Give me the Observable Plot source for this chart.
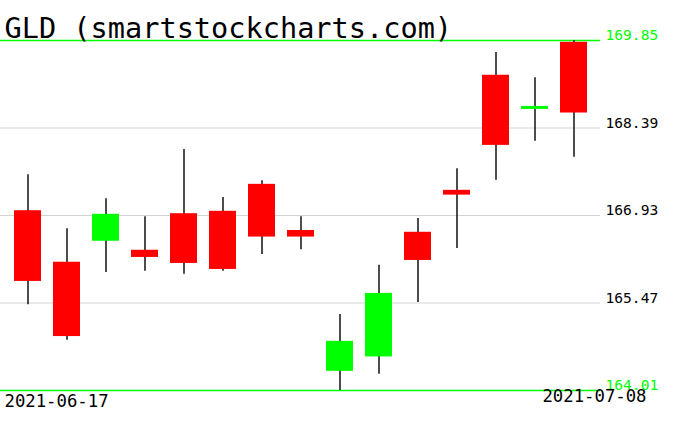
<!DOCTYPE html>
<html>
<head>
<meta charset="utf-8">
<script src="https://cdn.jsdelivr.net/npm/d3@7"></script>
<script src="https://cdn.jsdelivr.net/npm/@observablehq/plot@0.6"></script>
<style>
  html, body { margin: 0; padding: 0; background: #ffffff; }
  #chart svg { display: block; }
</style>
</head>
<body>
<div id="chart"></div>
<script>
const title = "GLD (smartstockcharts.com)";
const dates = ["2021-06-17","2021-06-18","2021-06-21","2021-06-22","2021-06-23","2021-06-24","2021-06-25","2021-06-28","2021-06-29","2021-06-30","2021-07-01","2021-07-02","2021-07-06","2021-07-07","2021-07-08"];
const open  = [167.01,166.15,166.50,166.35,166.96,167.00,167.45,166.68,164.33,164.57,166.65,167.35,169.27,168.70,169.82];
const close = [165.83,164.91,166.95,166.23,166.13,166.03,166.57,166.57,164.83,165.63,166.18,167.27,168.10,168.75,168.64];
const high  = [167.61,166.71,167.21,166.91,168.03,167.23,167.51,166.91,165.28,166.10,166.88,167.71,169.65,169.23,169.85];
const low   = [165.44,164.85,165.98,166.00,165.95,166.00,166.28,166.36,164.01,164.28,165.48,166.38,167.52,168.17,167.90];
const yTicks = [164.01, 165.47, 166.93, 168.39, 169.85];

const data = dates.map((d, i) => ({date: d, open: open[i], close: close[i], high: high[i], low: low[i]}));
const edgeTicks = [yTicks[0], yTicks[yTicks.length - 1]];
const innerTicks = yTicks.slice(1, -1);

const GREEN = "#00ff00", RED = "#ff0000";
const mono = "'DejaVu Sans Mono', 'Liberation Mono', monospace";

const chart = Plot.plot({
  width: 676,
  height: 431,
  marginLeft: 0,
  marginRight: 76,
  marginTop: 40,
  marginBottom: 41,
  style: {background: "#ffffff", overflow: "visible", fontFamily: mono},
  x: {type: "band", domain: dates, range: [6.5, 593.5], padding: 0, axis: null},
  y: {domain: [yTicks[0], yTicks[yTicks.length - 1]], axis: null},
  marks: [
    Plot.ruleY(innerTicks, {stroke: "#d3d3d3", strokeWidth: 1}),
    Plot.ruleY(edgeTicks, {stroke: GREEN, strokeWidth: 1.4}),
    Plot.ruleX(data, {x: "date", y1: "low", y2: "high", stroke: "#000000", strokeWidth: 1.4}),
    Plot.barY(data, {
      x: "date", y1: "open", y2: "close",
      fill: d => d.close >= d.open ? GREEN : RED,
      insetLeft: 6, insetRight: 6
    }),
    Plot.text(innerTicks, {
      y: d => d, frameAnchor: "right", text: d => d.toFixed(2),
      textAnchor: "start", dx: 5, dy: -5, fill: "#000000",
      fontSize: 14.6, fontFamily: mono
    }),
    Plot.text(edgeTicks, {
      y: d => d, frameAnchor: "right", text: d => d.toFixed(2),
      textAnchor: "start", dx: 5, dy: -5, fill: GREEN,
      fontSize: 14.6, fontFamily: mono
    }),
    Plot.text([dates[0]], {
      frameAnchor: "bottom-left", text: d => d, textAnchor: "start",
      lineAnchor: "middle", dx: 4, dy: 11, fill: "#000000",
      fontSize: 17.3, fontFamily: mono
    }),
    Plot.text([dates[dates.length - 1]], {
      frameAnchor: "bottom-right", text: d => d, textAnchor: "end",
      lineAnchor: "middle", dx: 46, dy: 6, fill: "#000000",
      fontSize: 17.3, fontFamily: mono
    }),
    Plot.text([title], {
      frameAnchor: "top-left", text: d => d, textAnchor: "start",
      lineAnchor: "bottom", dx: 4, dy: -3, fill: "#000000",
      fontSize: 28.6, fontFamily: mono
    })
  ]
});
document.getElementById("chart").appendChild(chart);
</script>
</body>
</html>
